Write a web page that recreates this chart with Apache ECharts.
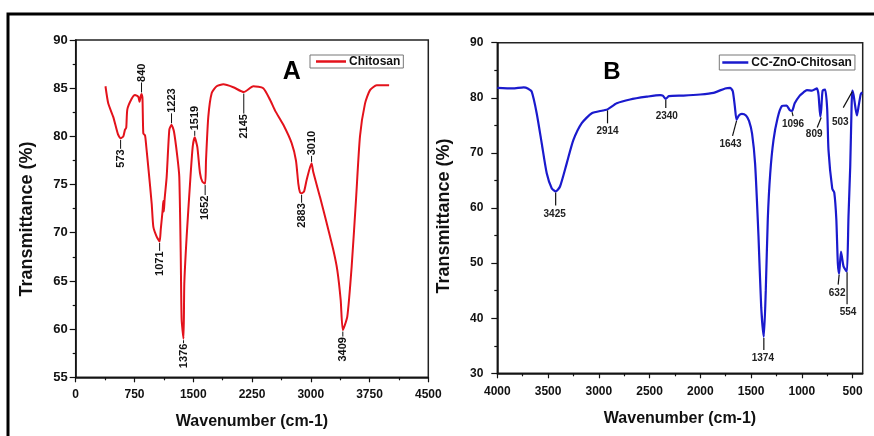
<!DOCTYPE html>
<html>
<head>
<meta charset="utf-8">
<script src="https://cdn.jsdelivr.net/npm/echarts@6/dist/echarts.min.js"></script>
<style>
html,body{margin:0;padding:0;background:#fff;}
#chart{width:874px;height:436px;}
</style>
</head>
<body>
<div id="chart"></div>
<script>
// ---------- DATA ----------
// Panel A: Chitosan
const chitosanWavenumber = [380,416,480,540,573,608,629,645,659,714,757,799,815,830,840,852,863,885,900,930,970,991,1033,1071,1085,1110,1118,1125,1135,1161,1195,1223,1254,1297,1322,1340,1352,1376,1386,1416,1459,1493,1519,1552,1586,1616,1652,1663,1692,1736,1799,1884,2011,2145,2267,2394,2480,2543,2650,2756,2811,2841,2862,2883,2915,2948,3010,3032,3118,3203,3288,3339,3382,3409,3466,3522,3577,3628,3692,3756,3841,4000];
const chitosanTransmittance = [85.2,83.4,82.0,80.2,79.8,80.0,80.7,80.9,82.8,83.9,84.3,84.1,83.6,84.2,84.4,84.0,80.3,80.1,79.0,76.5,73.0,70.6,69.6,69.1,70.3,72.4,73.3,72.2,73.5,75.8,80.7,81.2,80.5,77.9,75.8,68.0,61.0,59.0,64.7,69.6,75.1,78.9,79.9,78.9,76.2,75.3,75.1,77.5,82.0,84.5,85.2,85.4,85.1,84.6,85.2,85.0,83.8,82.7,81.2,79.3,77.5,75.1,74.2,74.1,74.3,75.5,77.2,76.3,73.7,71.0,68.2,66.1,63.0,59.9,61.3,66.5,73.4,80.0,83.4,84.8,85.3,85.3];
const chitosanPeakWavenumber = [573,840,1071,1223,1376,1519,1652,2145,2883,3010,3409];
const chitosanPeakTransmittance = [79.8,84.4,69.1,81.2,59.0,79.9,75.1,84.6,74.1,77.2,59.9];
const chitosanPeakText = ['573','840','1071','1223','1376','1519','1652','2145','2883','3010','3409'];

// Panel B: CC-ZnO-Chitosan
const compositeWavenumber = [4000,3850,3740,3700,3661,3612,3562,3513,3464,3425,3382,3316,3251,3168,3069,2960,2914,2823,2692,2527,2396,2370,2340,2310,2166,2001,1870,1755,1706,1680,1660,1643,1620,1590,1550,1520,1490,1460,1427,1400,1374,1355,1335,1311,1279,1239,1196,1150,1120,1096,1070,1020,983,950,900,851,835,818,808,795,770,750,737,700,680,660,645,632,614,589,563,554,540,523,510,503,490,470,457,440,420,405];
const compositeTransmittance = [81.8,81.7,81.9,81.7,81.1,77.2,71.7,66.3,63.6,63.0,63.9,68.1,72.3,75.4,77.2,77.7,77.9,79.0,79.7,80.2,80.5,80.4,79.8,80.3,80.4,80.6,80.9,81.7,81.8,81.2,78.5,76.0,76.8,77.1,76.8,75.8,73.5,68.0,55.0,42.0,36.6,45.0,58.0,66.3,72.3,76.3,78.5,78.6,77.8,77.6,79.0,80.4,81.0,81.4,81.3,81.7,80.5,76.6,78.0,81.3,81.5,78.0,70.5,63.5,62.8,58.0,50.0,48.1,52.1,49.4,48.6,48.5,58.4,67.5,78.0,81.3,80.5,78.0,76.8,78.5,80.6,81.0];
const compositePeakWavenumber = [3425,2914,2340,1643,1096,809,503,632,554,1374];
const compositePeakTransmittance = [63.0,77.9,79.8,76.0,77.6,76.6,81.3,48.1,48.5,36.6];
const compositePeakText = ['3425','2914','2340','1643','1096','809','503','632','554','1374'];

// Axis ticks
const axisBTicks = [500,1000,1500,2000,2500,3000,3500,4000];
const axisBMinorTicks = [750,1250,1750,2250,2750,3250,3750];

// ---------- LAYOUT (label placement, pixels) ----------
// panel A: [direction, leader length]
const layoutA = [['down',9],['up',10],['down',8],['up',10],['down',3],['up',5],['down',10],['down',20],['down',8],['up',6],['down',5]];
// panel B: [leader dx, leader dy, text dx, text dy]
const layoutB = [[0,14,-1,23],[0,14,0,22],[0,9,1,17],[-4,16,-6,24],[1,5,1,13],[-4,11,-7,18],[-9,17,-12,32],[-1,11,-2,20],[0,33,1,41],[0,13,-1,21]];

const FONT = 'Liberation Sans, Arial, Helvetica, sans-serif';
const INK = '#111';

function zip(a,b){return a.map((v,i)=>[v,b[i]]);}
const plain = v => String(v);

const chart = echarts.init(document.getElementById('chart'), null, {renderer:'canvas'});

function axisCommon(){
  return {
    axisLine:{show:true,onZero:false,lineStyle:{color:INK,width:1.5}},
    axisTick:{show:true,length:5,lineStyle:{color:INK,width:1.2}},
    splitLine:{show:false},
    axisLabel:{fontFamily:FONT,fontWeight:'bold',fontSize:12,color:INK,formatter:plain}
  };
}

const xA = Object.assign(axisCommon(), {
  gridIndex:0,type:'value',position:'bottom',min:0,max:4500,interval:750,
  minorTick:{show:true,splitNumber:2,length:3,lineStyle:{color:INK,width:1.2}},
  name:'Wavenumber (cm-1)',nameLocation:'middle',nameGap:36,
  nameTextStyle:{fontFamily:FONT,fontWeight:'bold',fontSize:16,color:INK}
});
xA.axisLabel.margin = 11;

const xB = Object.assign(axisCommon(), {
  gridIndex:1,type:'value',position:'bottom',inverse:true,min:400,max:4000,
  name:'Wavenumber (cm-1)',nameLocation:'middle',nameGap:37,
  nameTextStyle:{fontFamily:FONT,fontWeight:'bold',fontSize:16,color:INK}
});
xB.axisLabel.margin = 12;
xB.axisLabel.customValues = axisBTicks;
xB.axisTick.customValues = axisBTicks;

// minor ticks of panel B live in an overlay grid with the same geometry
const xBMinor = {
  gridIndex:2,type:'value',position:'bottom',inverse:true,min:400,max:4000,
  axisLine:{show:false},axisLabel:{show:false},splitLine:{show:false},
  axisTick:{show:true,length:3,customValues:axisBMinorTicks,lineStyle:{color:INK,width:1.2}}
};
const yBHidden = {gridIndex:2,type:'value',min:30,max:90,show:false};

const yA = Object.assign(axisCommon(), {
  gridIndex:0,type:'value',min:55,max:90,interval:5,
  minorTick:{show:true,splitNumber:2,length:3,lineStyle:{color:INK,width:1.2}}
});
yA.axisTick.length = 6;
yA.axisLabel.margin = 8;
yA.axisLabel.fontSize = 13;

const yB = Object.assign(axisCommon(), {
  gridIndex:1,type:'value',min:30,max:90,interval:10,
  minorTick:{show:true,splitNumber:2,length:3,lineStyle:{color:INK,width:1.2}}
});
yB.axisTick.length = 6;
yB.axisLabel.margin = 14;
yB.axisLabel.fontSize = 12;

function renderA(params, api){
  const i = params.dataIndex;
  const p = api.coord([api.value(0), api.value(1)]);
  const dir = layoutA[i][0], len = layoutA[i][1];
  const s = dir === 'down' ? 1 : -1;
  const y1 = p[1] + s*1.5, y2 = p[1] + s*(len+1.5);
  return {type:'group',children:[
    {type:'line',shape:{x1:p[0],y1:y1,x2:p[0],y2:y2},style:{stroke:INK,lineWidth:1}},
    {type:'text',x:p[0],y:y2 + s*0.5,rotation:Math.PI/2,
      style:{text:chitosanPeakText[i],fontFamily:FONT,fontWeight:'bold',fontSize:11,fill:INK,
        align: dir==='down' ? 'right' : 'left', verticalAlign:'middle'}}
  ]};
}

function renderB(params, api){
  const i = params.dataIndex;
  const p = api.coord([api.value(0), api.value(1)]);
  const L = layoutB[i];
  return {type:'group',children:[
    {type:'line',shape:{x1:p[0],y1:p[1]+1,x2:p[0]+L[0],y2:p[1]+L[1]},style:{stroke:INK,lineWidth:1.2}},
    {type:'text',x:p[0]+L[2],y:p[1]+L[3],
      style:{text:compositePeakText[i],fontFamily:FONT,fontWeight:'bold',fontSize:10,fill:'#222',
        align:'center',verticalAlign:'middle'}}
  ]};
}

const option = {
  animation:false,
  backgroundColor:'#fff',
  grid:[
    {left:75.7,top:40,width:352.6,height:337.3,show:true,borderColor:'#222',borderWidth:1.5,backgroundColor:'transparent'},
    {left:497.3,top:42.7,width:365.4,height:330.6,show:true,borderColor:'#222',borderWidth:1.5,backgroundColor:'transparent'},
    {left:497.3,top:42.7,width:365.4,height:330.6,show:false}
  ],
  xAxis:[xA,xB,xBMinor],
  yAxis:[yA,yB,yBHidden],
  legend:[
    {data:['Chitosan'],left:310,top:55,orient:'horizontal',icon:'rect',
      borderColor:'#777',borderWidth:1,padding:[0,3,0,6],itemWidth:30,itemHeight:2.5,
      textStyle:{fontFamily:FONT,fontWeight:'bold',fontSize:12,color:INK,padding:[0,0,0,-2],lineHeight:13}},
    {data:['CC-ZnO-Chitosan'],left:719.3,top:55,orient:'horizontal',icon:'rect',
      borderColor:'#777',borderWidth:1,padding:[1,3,1,3],itemWidth:26,itemHeight:2.5,
      textStyle:{fontFamily:FONT,fontWeight:'bold',fontSize:12,color:INK,padding:[0,0,0,-2],lineHeight:13}}
  ],
  graphic:[
    {type:'rect',shape:{x:8,y:14,width:900,height:600},style:{fill:'none',stroke:'#000',lineWidth:3},silent:true,z:100},
    {type:'text',x:291.7,y:72,style:{text:'A',fontFamily:FONT,fontWeight:'bold',fontSize:25,fill:'#000',align:'center',verticalAlign:'middle'}},
    {type:'text',x:612,y:72,style:{text:'B',fontFamily:FONT,fontWeight:'bold',fontSize:24,fill:'#000',align:'center',verticalAlign:'middle'}},
    {type:'text',x:27,y:219,rotation:Math.PI/2,style:{text:'Transmittance (%)',fontFamily:FONT,fontWeight:'bold',fontSize:18,fill:INK,align:'center',verticalAlign:'middle'}},
    {type:'text',x:444,y:216,rotation:Math.PI/2,style:{text:'Transmittance (%)',fontFamily:FONT,fontWeight:'bold',fontSize:18,fill:INK,align:'center',verticalAlign:'middle'}}
  ],
  series:[
    {name:'Chitosan',type:'line',xAxisIndex:0,yAxisIndex:0,data:zip(chitosanWavenumber,chitosanTransmittance),
      symbol:'none',showSymbol:false,smooth:0.2,lineStyle:{color:'#e3121b',width:2},itemStyle:{color:'#e3121b'},z:3},
    {name:'CC-ZnO-Chitosan',type:'line',xAxisIndex:1,yAxisIndex:1,data:zip(compositeWavenumber,compositeTransmittance),
      symbol:'none',showSymbol:false,smooth:0.2,lineStyle:{color:'#1a1acd',width:2.2},itemStyle:{color:'#1a1acd'},z:3},
    {name:'peaksA',type:'custom',xAxisIndex:0,yAxisIndex:0,renderItem:renderA,
      data:zip(chitosanPeakWavenumber,chitosanPeakTransmittance),z:5,silent:true},
    {name:'peaksB',type:'custom',xAxisIndex:1,yAxisIndex:1,renderItem:renderB,
      data:zip(compositePeakWavenumber,compositePeakTransmittance),z:5,silent:true}
  ]
};
chart.setOption(option);
</script>
</body>
</html>
